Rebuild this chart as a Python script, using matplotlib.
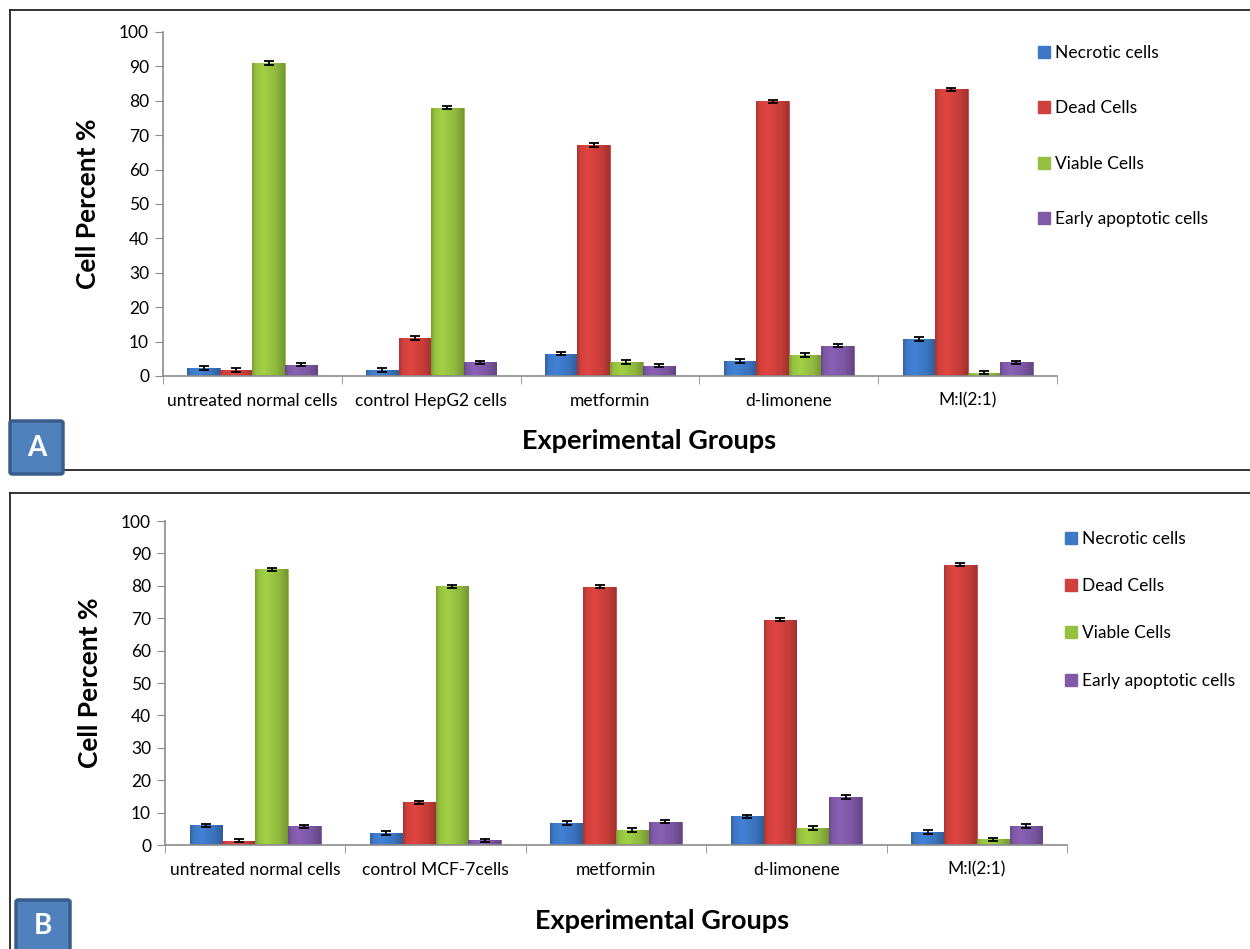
import matplotlib
matplotlib.use('Agg')
import matplotlib.pyplot as plt
import matplotlib.patches as mpatches
from matplotlib.colors import to_rgb
import numpy as np

plt.rcParams['font.family'] = ['Lato', 'DejaVu Sans']

series = ['Necrotic cells', 'Dead Cells', 'Viable Cells', 'Early apoptotic cells']
colors = ['#3d78c6', '#d0403c', '#96c140', '#8059a8']

groups_a = ['untreated normal cells', 'control HepG2 cells', 'metformin', 'd-limonene', 'M:l(2:1)']
necrotic_a = [2.3, 1.8, 6.5, 4.3, 10.8]
dead_a = [1.7, 11.0, 67.2, 79.8, 83.3]
viable_a = [91.0, 78.0, 4.0, 6.0, 1.0]
apoptotic_a = [3.3, 4.0, 3.0, 8.8, 4.0]
err_a = [
    [0.5, 0.6, 0.5, 0.5, 0.6],
    [0.5, 0.5, 0.5, 0.5, 0.5],
    [0.5, 0.5, 0.6, 0.6, 0.4],
    [0.5, 0.5, 0.5, 0.5, 0.5],
]

groups_b = ['untreated normal cells', 'control MCF-7cells', 'metformin', 'd-limonene', 'M:l(2:1)']
necrotic_b = [6.1, 3.8, 6.8, 8.8, 4.0]
dead_b = [1.3, 13.2, 79.7, 69.5, 86.5]
viable_b = [85.1, 79.8, 4.7, 5.3, 1.7]
apoptotic_b = [5.8, 1.4, 7.2, 14.8, 6.0]
err_b = [
    [0.5, 0.6, 0.5, 0.5, 0.5],
    [0.5, 0.5, 0.5, 0.5, 0.5],
    [0.5, 0.5, 0.6, 0.6, 0.5],
    [0.5, 0.5, 0.5, 0.6, 0.6],
]

W, H = 1250, 949
fig = plt.figure(figsize=(12.5, 9.49), dpi=100)


def shade_bar(ax, patch, color):
    # horizontal light/dark gradient to mimic the bevelled bars
    base = np.array(to_rgb(color))
    xs = np.linspace(0, 1, 40)
    prof = np.interp(xs, [0, 0.1, 0.35, 0.75, 1.0], [0.82, 1.0, 1.08, 0.95, 0.78])
    img = np.clip(base[None, :] * prof[:, None], 0, 1)[None, :, :]
    x0, y0 = patch.get_x(), patch.get_y()
    im = ax.imshow(img, extent=(x0, x0 + patch.get_width(), y0, y0 + patch.get_height()),
                   aspect='auto', zorder=patch.get_zorder() + 0.1, interpolation='bilinear')
    im.set_clip_path(patch)


def panel(rect, groups, values, errs, legend_pos, legend_gap):
    ax = fig.add_axes(rect)
    x = np.arange(len(groups))
    w = 0.182
    for i, (vals, err, c) in enumerate(zip(values, errs, colors)):
        bars = ax.bar(x + (i - 1.5) * w, vals, w, color=c, edgecolor=c, linewidth=0.6,
                      label=series[i], zorder=2)
        for p in bars:
            shade_bar(ax, p, c)
        ax.errorbar(x + (i - 1.5) * w, vals, yerr=err, fmt='none', ecolor='black',
                    elinewidth=1.3, capsize=3.5, capthick=1.3, zorder=4)
    ax.set_xlim(-0.5, len(groups) - 0.5)
    ax.set_ylim(0, 100)
    ax.set_yticks(range(0, 101, 10))
    ax.set_xticks(x)
    ax.set_xticklabels(groups, fontsize=12.5)
    ax.set_xticks(np.arange(-0.5, len(groups)), minor=True)
    ax.tick_params(axis='x', which='major', length=0, pad=12)
    ax.tick_params(axis='x', which='minor', length=6, color='#8c8c8c', direction='out')
    ax.tick_params(axis='y', length=6, color='#8c8c8c', labelsize=12.5, pad=4)
    for s in ['top', 'right']:
        ax.spines[s].set_visible(False)
    for s in ['left', 'bottom']:
        ax.spines[s].set_color('#8c8c8c')
        ax.spines[s].set_linewidth(1.2)
    ax.set_ylabel('Cell Percent %', fontsize=19, fontweight='bold', labelpad=14)
    handles = [mpatches.Patch(facecolor=c, edgecolor=c) for c in colors]
    fig.legend(handles, series, loc='upper left', bbox_to_anchor=legend_pos,
               frameon=False, fontsize=12.5, handlelength=0.7, handleheight=0.7,
               handletextpad=0.3, labelspacing=legend_gap, borderaxespad=0)
    return ax


ax_a = panel([163 / W, 1 - 376 / H, 894 / W, 344 / H], groups_a,
             [necrotic_a, dead_a, viable_a, apoptotic_a], err_a,
             (1031 / W, 1 - 38 / H), 2.27)
ax_b = panel([165 / W, 1 - 845 / H, 902 / W, 324 / H], groups_b,
             [necrotic_b, dead_b, viable_b, apoptotic_b], err_b,
             (1058 / W, 1 - 524 / H), 1.8)

fig.text(649 / W, 1 - 441 / H, 'Experimental Groups', ha='center', va='center',
         fontsize=19.5, fontweight='bold')
fig.text(662 / W, 1 - 921 / H, 'Experimental Groups', ha='center', va='center',
         fontsize=19.5, fontweight='bold')

# panel frames
line_kw = dict(color='#222222', linewidth=1.3, transform=fig.transFigure)
fig.add_artist(plt.Line2D([10 / W, 1], [1 - 10 / H, 1 - 10 / H], **line_kw))
fig.add_artist(plt.Line2D([10 / W, 10 / W], [1 - 10 / H, 1 - 470 / H], **line_kw))
fig.add_artist(plt.Line2D([10 / W, 1], [1 - 470 / H, 1 - 470 / H], **line_kw))
fig.add_artist(plt.Line2D([10 / W, 1], [1 - 493 / H, 1 - 493 / H], **line_kw))
fig.add_artist(plt.Line2D([10 / W, 10 / W], [1 - 493 / H, 0], **line_kw))

# panel letters
for letter, (x0, y0, x1, y1) in [('A', (10, 421, 63, 474)), ('B', (16, 900, 70, 952))]:
    box = mpatches.FancyBboxPatch((x0 / W, 1 - y1 / H), (x1 - x0) / W, (y1 - y0) / H,
                                  boxstyle='round,pad=0,rounding_size=0.002',
                                  facecolor='#4f81bd', edgecolor='#385d8a', linewidth=2.5,
                                  transform=fig.transFigure, zorder=5)
    fig.add_artist(box)
    fig.text((x0 + x1) / 2 / W, 1 - (y0 + y1) / 2 / H, letter, ha='center', va='center',
             color='white', fontsize=20, fontweight='bold', zorder=6)

fig.savefig('out.png', dpi=100)
